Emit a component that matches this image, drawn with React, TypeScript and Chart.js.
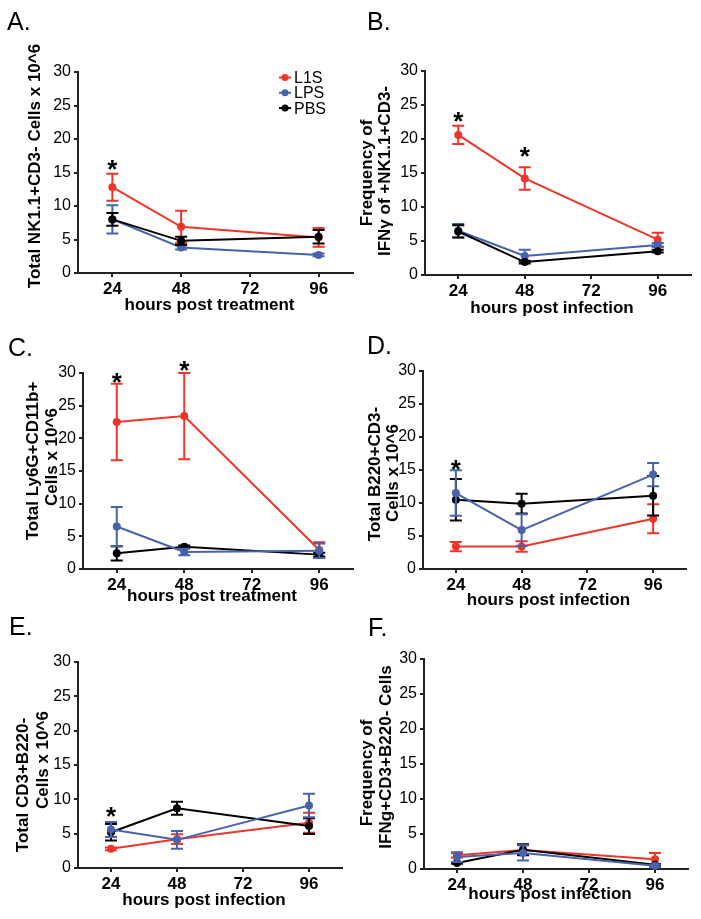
import React, { useEffect, useRef } from "react";
import { Chart, registerables } from "chart.js";

Chart.register(...registerables);

const FONT = '"Liberation Sans", Arial, Helvetica, sans-serif';

// ---- shared categories ----
const SERIES_NAMES = ["L1S", "LPS", "PBS"];
const SERIES_COLORS = ["#EE3528", "#4862AC", "#000000"];
const TIME_POINTS = [24, 48, 96];
const HOUR_TICKS = [24, 48, 72, 96];
const Y_STEP = 5;
const Y_MAX = 30;

// ---- Panel A ----
const A_L1S = [12.8, 6.9, 5.3];
const A_L1S_ERR = [2.0, 2.4, 1.4];
const A_LPS = [8.0, 3.8, 2.7];
const A_LPS_ERR = [2.1, 0.3, 0.2];
const A_PBS = [8.0, 4.8, 5.4];
const A_PBS_ERR = [0.95, 0.6, 1.0];
const A_STAR_HOURS = [24];
const A_STAR_VALUES = [16.4];

// ---- Panel B ----
const B_L1S = [20.6, 14.2, 5.2];
const B_L1S_ERR = [1.35, 1.65, 1.0];
const B_LPS = [6.5, 2.8, 4.4];
const B_LPS_ERR = [1.0, 0.9, 0.3];
const B_PBS = [6.4, 1.9, 3.5];
const B_PBS_ERR = [0.9, 0.2, 0.2];
const B_STAR_HOURS = [24, 48];
const B_STAR_VALUES = [23.5, 18.4];

// ---- Panel C ----
const C_L1S = [22.5, 23.4, 2.9];
const C_L1S_ERR = [5.85, 6.6, 1.2];
const C_LPS = [6.5, 2.6, 2.8];
const C_LPS_ERR = [3.0, 0.5, 1.1];
const C_PBS = [2.4, 3.4, 2.2];
const C_PBS_ERR = [1.1, 0.2, 0.3];
const C_STAR_HOURS = [24, 48];
const C_STAR_VALUES = [29.6, 31.4];

// ---- Panel D ----
const D_L1S = [3.4, 3.4, 7.6];
const D_L1S_ERR = [0.7, 0.8, 2.2];
const D_LPS = [11.5, 5.9, 14.3];
const D_LPS_ERR = [3.45, 2.4, 1.75];
const D_PBS = [10.5, 9.9, 11.1];
const D_PBS_ERR = [3.15, 1.5, 3.0];
const D_STAR_HOURS = [24];
const D_STAR_VALUES = [16.1];

// ---- Panel E ----
const E_L1S = [2.8, 4.2, 6.6];
const E_L1S_ERR = [0.2, 0.7, 1.45];
const E_LPS = [5.6, 4.1, 9.1];
const E_LPS_ERR = [1.1, 1.3, 1.7];
const E_PBS = [5.2, 8.7, 6.1];
const E_PBS_ERR = [1.2, 0.95, 1.15];
const E_STAR_HOURS = [24];
const E_STAR_VALUES = [8.4];

// ---- Panel F ----
const F_L1S = [1.95, 2.7, 1.4];
const F_L1S_ERR = [0.3, 0.7, 0.9];
const F_LPS = [1.7, 2.3, 0.45];
const F_LPS_ERR = [0.7, 1.1, 0.2];
const F_PBS = [0.85, 2.75, 0.6];
const F_PBS_ERR = [0.1, 0.8, 0.1];
const F_STAR_HOURS: number[] = [];
const F_STAR_VALUES: number[] = [];

type Panel = {
  letter: string;
  letterX: number;
  letterY: number;
  area: { l: number; r: number; t: number; b: number };
  yTitle: string[];
  yTitleX: number[];
  yTitleY: number[];
  xTitle: string;
  xTitleY: number;
  means: number[][];
  errs: number[][];
  starHours: number[];
  starValues: number[];
  legend: boolean;
  blackOnTop: boolean;
};

const PANELS: Panel[] = [
  {
    letter: "A.", letterX: 7, letterY: 30,
    area: { l: 78, r: 353, t: 72, b: 273 },
    yTitle: ["Total NK1.1+CD3- Cells x 10^6"], yTitleX: [35], yTitleY: [166],
    xTitle: "hours post treatment", xTitleY: 310,
    means: [A_L1S, A_LPS, A_PBS], errs: [A_L1S_ERR, A_LPS_ERR, A_PBS_ERR],
    starHours: A_STAR_HOURS, starValues: A_STAR_VALUES, legend: true, blackOnTop: true,
  },
  {
    letter: "B.", letterX: 367, letterY: 30,
    area: { l: 425, r: 691, t: 71, b: 275 },
    yTitle: ["Frequency of", "IFNγ of +NK1.1+CD3-"], yTitleX: [367, 385], yTitleY: [173, 171],
    xTitle: "hours post infection", xTitleY: 313,
    means: [B_L1S, B_LPS, B_PBS], errs: [B_L1S_ERR, B_LPS_ERR, B_PBS_ERR],
    starHours: B_STAR_HOURS, starValues: B_STAR_VALUES, legend: false, blackOnTop: true,
  },
  {
    letter: "C.", letterX: 8, letterY: 356,
    area: { l: 83, r: 353, t: 373, b: 569 },
    yTitle: ["Total Ly6G+CD11b+", "Cells x 10^6"], yTitleX: [33, 52], yTitleY: [461, 457],
    xTitle: "hours post treatment", xTitleY: 601,
    means: [C_L1S, C_LPS, C_PBS], errs: [C_L1S_ERR, C_LPS_ERR, C_PBS_ERR],
    starHours: C_STAR_HOURS, starValues: C_STAR_VALUES, legend: false, blackOnTop: false,
  },
  {
    letter: "D.", letterX: 367, letterY: 354,
    area: { l: 423, r: 686, t: 371, b: 569 },
    yTitle: ["Total B220+CD3-", "Cells x 10^6"], yTitleX: [375, 393], yTitleY: [474, 473],
    xTitle: "hours post infection", xTitleY: 605,
    means: [D_L1S, D_LPS, D_PBS], errs: [D_L1S_ERR, D_LPS_ERR, D_PBS_ERR],
    starHours: D_STAR_HOURS, starValues: D_STAR_VALUES, legend: false, blackOnTop: false,
  },
  {
    letter: "E.", letterX: 9, letterY: 635,
    area: { l: 78, r: 342, t: 662, b: 868 },
    yTitle: ["Total CD3+B220-", "Cells x 10^6"], yTitleX: [23, 43], yTitleY: [785, 760],
    xTitle: "hours post infection", xTitleY: 905,
    means: [E_L1S, E_LPS, E_PBS], errs: [E_L1S_ERR, E_LPS_ERR, E_PBS_ERR],
    starHours: E_STAR_HOURS, starValues: E_STAR_VALUES, legend: false, blackOnTop: false,
  },
  {
    letter: "F.", letterX: 368, letterY: 636,
    area: { l: 424, r: 688, t: 659, b: 869 },
    yTitle: ["Frequency of", "IFNg+CD3+B220- Cells"], yTitleX: [367, 386], yTitleY: [773, 757],
    xTitle: "hours post infection", xTitleY: 899,
    means: [F_L1S, F_LPS, F_PBS], errs: [F_L1S_ERR, F_LPS_ERR, F_PBS_ERR],
    starHours: F_STAR_HOURS, starValues: F_STAR_VALUES, legend: false, blackOnTop: false,
  },
];

const PAGE_W = 701;
const PAGE_H = 919;
const Y_AXIS_W = 50;
const X_AXIS_H = 40;

const errorBarPlugin = {
  id: "errorBars",
  afterDatasetDraw(chart: any, args: any) {
    const ds = chart.data.datasets[args.index];
    const xs = chart.scales.x;
    const ys = chart.scales.y;
    const ctx = chart.ctx;
    ctx.save();
    ctx.strokeStyle = ds.borderColor;
    ctx.lineWidth = 2;
    ds.data.forEach((pt: any, i: number) => {
      const e = ds.errs[i];
      const x = xs.getPixelForValue(pt.x);
      const y1 = ys.getPixelForValue(pt.y + e);
      const y2 = ys.getPixelForValue(Math.max(0, pt.y - e));
      ctx.beginPath();
      ctx.moveTo(x, y1);
      ctx.lineTo(x, y2);
      ctx.moveTo(x - 6, y1);
      ctx.lineTo(x + 6, y1);
      ctx.moveTo(x - 6, y2);
      ctx.lineTo(x + 6, y2);
      ctx.stroke();
    });
    ctx.restore();
  },
};

function annotationPlugin(p: Panel) {
  return {
    id: "panelText",
    afterDraw(chart: any) {
      const ctx = chart.ctx;
      const area = chart.chartArea;
      const xs = chart.scales.x;
      const ys = chart.scales.y;
      ctx.save();
      ctx.fillStyle = "#000";
      // panel letter
      ctx.font = `25px ${FONT}`;
      ctx.textAlign = "left";
      ctx.textBaseline = "alphabetic";
      ctx.fillText(p.letter, p.letterX, p.letterY);
      // y title lines
      ctx.font = `bold 17px ${FONT}`;
      ctx.textAlign = "center";
      ctx.textBaseline = "middle";
      p.yTitle.forEach((line, i) => {
        ctx.save();
        ctx.translate(p.yTitleX[i], p.yTitleY[i]);
        ctx.rotate(-Math.PI / 2);
        ctx.fillText(line, 0, 0);
        ctx.restore();
      });
      // x title
      ctx.textBaseline = "alphabetic";
      ctx.fillText(p.xTitle, (area.left + area.right) / 2 - 6, p.xTitleY);
      // stars
      ctx.font = `bold 26px ${FONT}`;
      p.starHours.forEach((h, i) => {
        const x = xs.getPixelForValue(h);
        const y = ys.getPixelForValue(p.starValues[i]);
        ctx.fillText("*", x, y + 15);
      });
      // legend
      if (p.legend) {
        ctx.font = `16px ${FONT}`;
        ctx.textAlign = "left";
        ctx.textBaseline = "middle";
        SERIES_NAMES.forEach((name, i) => {
          const y = 77.5 + i * 15.3;
          ctx.strokeStyle = SERIES_COLORS[i];
          ctx.fillStyle = SERIES_COLORS[i];
          ctx.lineWidth = 2;
          ctx.beginPath();
          ctx.moveTo(279, y);
          ctx.lineTo(291, y);
          ctx.stroke();
          ctx.beginPath();
          ctx.arc(285, y, 3.5, 0, Math.PI * 2);
          ctx.fill();
          ctx.fillStyle = "#000";
          ctx.fillText(name, 294, y + 1);
        });
      }
      ctx.restore();
    },
  };
}

function PanelChart({ p }: { p: Panel }) {
  const ref = useRef<HTMLCanvasElement>(null);
  useEffect(() => {
    const canvas = ref.current;
    if (!canvas) return;
    const orders = p.blackOnTop ? [3, 2, 1] : [3, 1, 2];
    const gridCfg = {
      display: true,
      drawOnChartArea: false,
      drawTicks: true,
      tickLength: 4,
      tickWidth: 2,
      lineWidth: 2,
      tickColor: "#222",
      color: "#222",
    };
    const borderCfg = { display: true, color: "#222", width: 2 };
    const chart = new Chart(canvas, {
      type: "line",
      data: {
        datasets: SERIES_NAMES.map((name, si) => ({
          label: name,
          data: TIME_POINTS.map((t, i) => ({ x: t, y: p.means[si][i] })),
          borderColor: SERIES_COLORS[si],
          backgroundColor: SERIES_COLORS[si],
          pointBackgroundColor: SERIES_COLORS[si],
          pointBorderColor: SERIES_COLORS[si],
          borderWidth: 2,
          pointRadius: 4,
          pointHoverRadius: 4,
          pointBorderWidth: 0,
          tension: 0,
          fill: false,
          clip: false as any,
          order: orders[si],
          errs: p.errs[si],
        })) as any,
      },
      options: {
        responsive: false,
        animation: false,
        events: [],
        layout: {
          padding: {
            left: p.area.l - Y_AXIS_W,
            right: PAGE_W - p.area.r,
            top: p.area.t,
            bottom: PAGE_H - p.area.b - X_AXIS_H,
          },
        },
        plugins: { legend: { display: false }, tooltip: { enabled: false } },
        scales: {
          x: {
            type: "linear",
            min: 12,
            max: 108,
            afterBuildTicks: (s: any) => {
              s.ticks = HOUR_TICKS.map((v) => ({ value: v }));
            },
            afterFit: (s: any) => {
              s.height = X_AXIS_H;
            },
            ticks: {
              color: "#000",
              font: { family: FONT, size: 17, weight: "bold" },
              padding: 2,
              maxRotation: 0,
              autoSkip: false,
              callback: (v: any) => String(v),
            },
            grid: gridCfg as any,
            border: borderCfg,
          },
          y: {
            type: "linear",
            min: 0,
            max: Y_MAX,
            afterFit: (s: any) => {
              s.width = Y_AXIS_W;
            },
            ticks: {
              stepSize: Y_STEP,
              color: "#000",
              font: { family: FONT, size: 16 },
              padding: 3,
            },
            grid: gridCfg as any,
            border: borderCfg,
          },
        },
      },
      plugins: [errorBarPlugin, annotationPlugin(p)],
    });
    return () => chart.destroy();
  }, [p]);
  return (
    <canvas
      ref={ref}
      width={PAGE_W}
      height={PAGE_H}
      style={{ position: "absolute", left: 0, top: 0, width: PAGE_W, height: PAGE_H }}
    />
  );
}

export default function App() {
  return (
    <div
      style={{
        position: "absolute",
        left: 0,
        top: 0,
        width: PAGE_W,
        height: PAGE_H,
        background: "#fff",
        overflow: "hidden",
      }}
    >
      {PANELS.map((p) => (
        <PanelChart key={p.letter} p={p} />
      ))}
    </div>
  );
}
